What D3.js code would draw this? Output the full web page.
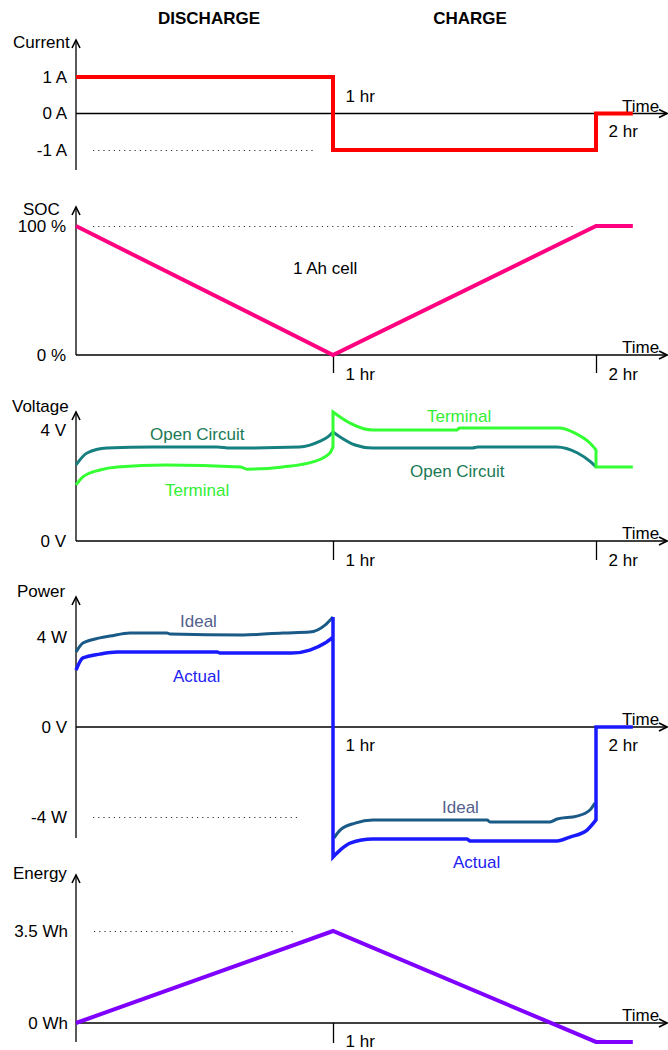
<!DOCTYPE html>
<html><head><meta charset="utf-8">
<script src="https://cdn.jsdelivr.net/npm/d3@7"></script>
<style>
body{margin:0;background:#fff}
svg{display:block}
text{font-family:"Liberation Sans",Arial,Helvetica,sans-serif;font-size:17px;fill:#000}
</style>
</head><body>
<svg id="c" width="668" height="1050"></svg>
<script>
// ---------- data ----------
const phases = ["DISCHARGE", "CHARGE"];
const hourTicks = [1, 2];
const hourLabels = ["1 hr", "2 hr"];

const currentTicks = [1, 0, -1];
const currentTickLabels = ["1 A", "0 A", "-1 A"];
const socTicks = [100, 0];
const socTickLabels = ["100 %", "0 %"];
const voltTicks = [4, 0];
const voltTickLabels = ["4 V", "0 V"];
const powerTicks = [4, 0, -4];
const powerTickLabels = ["4 W", "0 V", "-4 W"];
const energyTicks = [3.5, 0];
const energyTickLabels = ["3.5 Wh", "0 Wh"];

// [time (hr), value]
const current = [[0,1],[1,1],[1,-1],[2,-1],[2,0],[2.14,0]];
const soc = [[0,100],[1,0],[2,100],[2.14,100]];

const voltOpenDischarge = [[0,2.74],[0.043,3.17],[0.12,3.35],[0.3,3.39],[0.55,3.39],[0.6,3.35],
  [0.87,3.39],[0.95,3.6],[0.98,3.75],[1,3.93]];
const voltOpenCharge = [[1,3.93],[1.027,3.75],[1.084,3.46],[1.15,3.35],[1.53,3.35],[1.55,3.39],
  [1.85,3.39],[1.93,3.17],[1.98,2.85],[2,2.67]];
const voltTerminal = [[0,2.02],[0.027,2.31],[0.093,2.56],[0.16,2.67],[0.35,2.74],[0.64,2.67],
  [0.665,2.59],[0.805,2.67],[0.922,2.85],[0.988,3.17],[1,3.39],[1,4.65],[1.027,4.47],
  [1.065,4.25],[1.152,4.0],[1.471,4.0],[1.48,4.07],[1.859,4.07],[1.92,3.89],[1.977,3.53],
  [2,3.28],[2,2.67],[2.14,2.67]];

const powerIdealDischarge = [[0,3.33],[0.027,3.73],[0.093,3.96],[0.132,4.04],[0.21,4.18],
  [0.354,4.18],[0.366,4.13],[0.65,4.09],[0.805,4.18],[0.91,4.22],[0.969,4.53],[1,4.89]];
const powerIdealCharge = [[1.004,-4.93],[1.027,-4.58],[1.084,-4.27],[1.152,-4.13],[1.586,-4.13],
  [1.597,-4.22],[1.825,-4.22],[1.852,-4.09],[1.928,-3.96],[1.977,-3.69],[1.996,-3.38]];
const powerActual = [[0,2.53],[0.027,3.07],[0.093,3.24],[0.16,3.33],[0.55,3.33],[0.56,3.29],
  [0.84,3.29],[0.91,3.42],[0.969,3.73],[1,4.0],[1,4.89],[1,-5.78],[1.027,-5.47],[1.065,-5.16],
  [1.152,-4.98],[1.51,-4.98],[1.521,-5.07],[1.852,-5.07],[1.901,-4.89],[1.966,-4.58],
  [2,-4.13],[2,0],[2.14,0]];

const energy = [[0,0],[1,3.5],[2,-0.72],[2.14,-0.72]];

// ---------- layout ----------
const svg = d3.select("#c");
const X0 = 76, XEND = 667;
const x = d3.scaleLinear().domain([0, 1, 2]).range([X0, 333, 596]);

const C = {
  current: "#ff0000", soc: "#ff0080", open: "#168080", openText: "#1a7a55",
  term: "#33ff33", termText: "#33ee33", ideal: "#1a5a86", idealText: "#52608c",
  actual: "#1a1aff", actualText: "#2222ee", energy: "#8000ff"
};

// headings
svg.selectAll("text.phase").data(phases).join("text")
  .attr("class", "phase")
  .attr("x", (d, i) => i === 0 ? 209 : 470).attr("y", 24)
  .attr("text-anchor", "middle").style("font-weight", "bold").text(d => d);

// smooth runs, straight vertical jumps where time repeats
function seriesPath(data, y, smooth) {
  if (!smooth) return d3.line().x(d => x(d[0])).y(d => y(d[1]))(data);
  const runs = [];
  let run = [data[0]];
  for (let i = 1; i < data.length; i++) {
    if (data[i][0] === data[i - 1][0]) { runs.push(run); run = [data[i]]; }
    else run.push(data[i]);
  }
  runs.push(run);
  const sm = d3.line().x(d => x(d[0])).y(d => y(d[1])).curve(d3.curveMonotoneX);
  let dstr = "";
  runs.forEach((r, k) => {
    if (r.length === 1) {
      dstr += (k === 0 ? "M" : "L") + x(r[0][0]) + "," + y(r[0][1]);
    } else {
      let p = sm(r);
      if (k > 0) p = "L" + p.slice(1);
      dstr += p;
    }
  });
  return dstr;
}

function panel(o) {
  const g = svg.append("g");
  const y = d3.scaleLinear().domain(o.domain).range(o.range);
  const axisY = y(0);
  g.append("line").attr("x1", X0).attr("x2", X0).attr("y1", o.bottom).attr("y2", o.top)
    .attr("stroke", "#000").attr("stroke-width", 1.3);
  g.append("path").attr("d", `M${X0-4},${o.top+8}L${X0},${o.top}L${X0+4},${o.top+8}`)
    .attr("fill", "none").attr("stroke", "#000").attr("stroke-width", 1.6);
  g.append("line").attr("x1", X0).attr("x2", XEND).attr("y1", axisY).attr("y2", axisY)
    .attr("stroke", "#000").attr("stroke-width", 1.3);
  g.append("path").attr("d", `M${XEND-8},${axisY-4}L${XEND},${axisY}L${XEND-8},${axisY+4}`)
    .attr("fill", "none").attr("stroke", "#000").attr("stroke-width", 1.6);
  g.append("text").attr("x", 622).attr("y", axisY - 2).text("Time");
  g.append("text").attr("x", o.titleX).attr("y", o.titleY).text(o.title);
  const ya = g.append("g").attr("transform", `translate(${o.tickX},0)`)
    .call(d3.axisLeft(y).tickValues(o.ticks).tickSize(0).tickPadding(0)
      .tickFormat((d, i) => o.tickLabels[i]));
  ya.select(".domain").remove();
  ya.selectAll("text").style("font-size", "17px").attr("fill", "#000")
    .style("font-family", '"Liberation Sans",Arial,sans-serif');
  const xa = g.append("g").attr("transform", `translate(0,${axisY})`)
    .call(d3.axisBottom(x).tickValues(o.hourTicks).tickSize(o.tickLen)
      .tickFormat(d => hourLabels[hourTicks.indexOf(d)]));
  xa.select(".domain").remove();
  xa.selectAll("line").attr("stroke", o.tickLen ? "#000" : "none").attr("stroke-width", 1.3);
  xa.selectAll("text").attr("text-anchor", "start").attr("x", 12)
    .attr("y", (d, i) => o.hourLabelY[i] - axisY).attr("dy", 0)
    .style("font-size", "17px").attr("fill", "#000")
    .style("font-family", '"Liberation Sans",Arial,sans-serif');
  if (o.ref) {
    g.append("line").attr("x1", o.ref[1]).attr("x2", o.ref[2])
      .attr("y1", Math.round(y(o.ref[0])) + 0.5).attr("y2", Math.round(y(o.ref[0])) + 0.5)
      .attr("stroke", "#333").attr("stroke-width", 1).attr("stroke-dasharray", "1.2,4");
  }
  o.series.forEach(s => {
    g.append("path").attr("d", seriesPath(s.data, y, s.smooth)).attr("fill", "none")
      .attr("stroke", s.color).attr("stroke-width", s.width)
      .attr("stroke-linejoin", "miter").attr("stroke-linecap", "butt");
  });
  (o.labels || []).forEach(l => {
    g.append("text").attr("x", l.x).attr("y", l.y).style("fill", l.color).text(l.text);
  });
  return y;
}

panel({
  domain: [-1, 1], range: [150, 77], top: 40, bottom: 170,
  title: "Current", titleX: 13, titleY: 48,
  ticks: currentTicks, tickLabels: currentTickLabels, tickX: 67,
  hourTicks: [1, 2], tickLen: 0, hourLabelY: [102, 137],
  ref: [-1, 93, 313],
  series: [{ data: current, color: C.current, width: 4 }]
});

panel({
  domain: [0, 100], range: [355, 226], top: 207, bottom: 355,
  title: "SOC", titleX: 23, titleY: 215,
  ticks: socTicks, tickLabels: socTickLabels, tickX: 66,
  hourTicks: [1, 2], tickLen: 18, hourLabelY: [380, 380],
  ref: [100, 93, 575],
  series: [{ data: soc, color: C.soc, width: 4 }],
  labels: [{ x: 293, y: 274, text: "1 Ah cell", color: "#000" }]
});

panel({
  domain: [0, 4], range: [541, 430], top: 412, bottom: 541,
  title: "Voltage", titleX: 12, titleY: 412,
  ticks: voltTicks, tickLabels: voltTickLabels, tickX: 66,
  hourTicks: [1, 2], tickLen: 19, hourLabelY: [566, 566],
  series: [
    { data: voltOpenDischarge, color: C.open, width: 3, smooth: true },
    { data: voltOpenCharge, color: C.open, width: 3, smooth: true },
    { data: voltTerminal, color: C.term, width: 3, smooth: true }
  ],
  labels: [
    { x: 150, y: 440, text: "Open Circuit", color: C.openText },
    { x: 165, y: 496, text: "Terminal", color: C.termText },
    { x: 427, y: 422, text: "Terminal", color: C.termText },
    { x: 410, y: 477, text: "Open Circuit", color: C.openText }
  ]
});

panel({
  domain: [-4, 4], range: [817, 637], top: 597, bottom: 838,
  title: "Power", titleX: 17, titleY: 597,
  ticks: powerTicks, tickLabels: powerTickLabels, tickX: 67,
  hourTicks: [1, 2], tickLen: 0, hourLabelY: [751, 751],
  ref: [-4, 93, 297],
  series: [
    { data: powerIdealDischarge, color: C.ideal, width: 3, smooth: true },
    { data: powerIdealCharge, color: C.ideal, width: 3, smooth: true },
    { data: powerActual, color: C.actual, width: 3.5, smooth: true }
  ],
  labels: [
    { x: 180, y: 627, text: "Ideal", color: C.idealText },
    { x: 173, y: 682, text: "Actual", color: C.actualText },
    { x: 442, y: 813, text: "Ideal", color: C.idealText },
    { x: 453, y: 868, text: "Actual", color: C.actualText }
  ]
});

panel({
  domain: [0, 3.5], range: [1023, 931], top: 875, bottom: 1042,
  title: "Energy", titleX: 13, titleY: 879,
  ticks: energyTicks, tickLabels: energyTickLabels, tickX: 68,
  hourTicks: [1], tickLen: 20, hourLabelY: [1047],
  ref: [3.5, 94, 296],
  series: [{ data: energy, color: C.energy, width: 4 }]
});
</script>
</body></html>
